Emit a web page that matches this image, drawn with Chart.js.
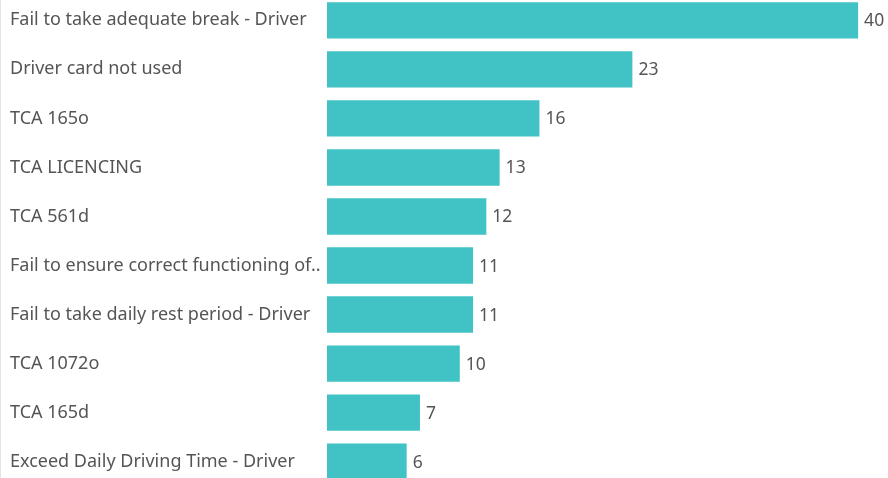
<!DOCTYPE html>
<html lang="en">
<head>
  <meta charset="UTF-8">
  <title>Violations</title>
  <script src="https://cdn.jsdelivr.net/npm/chart.js"></script>
  <style>
    html, body { margin: 0; padding: 0; background: #fff; overflow: hidden; }
    #wrap { position: relative; width: 888px; height: 478px; overflow: hidden; }
    #wrap canvas { position: absolute; left: 0; top: -15px; }
  </style>
</head>
<body>
  <div id="wrap">
    <canvas id="chart" width="888" height="512"></canvas>
  </div>
  <script>
    // categories and counts
    var categories = [
      'Fail to take adequate break - Driver',
      'Driver card not used',
      'TCA 165o',
      'TCA LICENCING',
      'TCA 561d',
      'Fail to ensure correct functioning of..',
      'Fail to take daily rest period - Driver',
      'TCA 1072o',
      'TCA 165d',
      'Exceed Daily Driving Time - Driver'
    ];
    var counts = [40, 23, 16, 13, 12, 11, 11, 10, 7, 6];

    var fontFamily = '"Noto Sans", "Open Sans", sans-serif';
    var textColor = '#555555';

    // value labels at the end of each bar + thin left border
    var valueLabels = {
      id: 'valueLabels',
      afterDatasetsDraw: function(chart) {
        var ctx = chart.ctx;
        var meta = chart.getDatasetMeta(0);
        ctx.save();
        ctx.font = '17.5px ' + fontFamily;
        ctx.fillStyle = textColor;
        ctx.textAlign = 'left';
        ctx.textBaseline = 'middle';
        meta.data.forEach(function(bar, i) {
          ctx.fillText(counts[i], bar.x + 6, bar.y + 1);
        });
        ctx.strokeStyle = '#e3e3e3';
        ctx.lineWidth = 1;
        ctx.beginPath();
        ctx.moveTo(0.5, 0);
        ctx.lineTo(0.5, chart.height);
        ctx.stroke();
        ctx.restore();
      }
    };

    new Chart(document.getElementById('chart'), {
      type: 'bar',
      data: {
        labels: categories,
        datasets: [{
          data: counts,
          backgroundColor: '#41c3c5',
          barPercentage: 0.742,
          categoryPercentage: 1
        }]
      },
      options: {
        indexAxis: 'y',
        responsive: false,
        animation: false,
        layout: { padding: { left: 10, right: 0, top: 0, bottom: 0 } },
        plugins: {
          legend: { display: false },
          tooltip: { enabled: false }
        },
        scales: {
          x: {
            display: false,
            min: 0,
            max: 42.25
          },
          y: {
            grid: { display: false },
            border: { display: false },
            afterFit: function(scale) { scale.width = 317; },
            ticks: {
              crossAlign: 'far',
              padding: 0,
              color: textColor,
              font: { family: fontFamily, size: 18 }
            }
          }
        }
      },
      plugins: [valueLabels]
    });
  </script>
</body>
</html>
